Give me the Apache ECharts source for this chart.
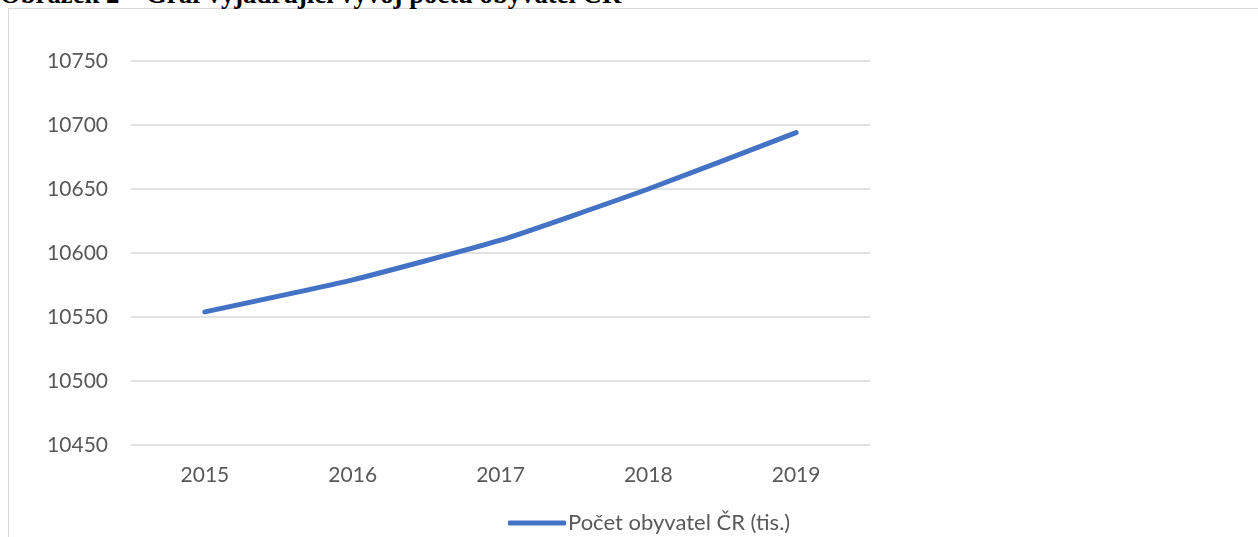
<!DOCTYPE html>
<html><head><meta charset="utf-8">
<script src="https://cdn.jsdelivr.net/npm/echarts@6/dist/echarts.min.js"></script>
<style>
html,body{margin:0;padding:0;background:#fff;overflow:hidden;}
#frame{position:absolute;left:8px;top:8px;width:1260px;height:540px;border:1.5px solid #d9d9d9;box-sizing:border-box;}
#title{position:absolute;left:0;top:-19px;font-family:"Liberation Serif","Times New Roman",serif;font-weight:bold;font-size:26.7px;line-height:26px;color:#000;white-space:nowrap;}
#chart{position:absolute;left:0;top:0;width:1258px;height:537px;}
</style></head>
<body>
<div id="frame"></div>
<div id="title">Obrázek 2 – Graf vyjadřující vývoj počtu obyvatel ČR</div>
<div id="chart"></div>
<script>
const categories = ['2015','2016','2017','2018','2019'];
const population = [10554, 10579, 10610, 10650, 10694];
const seriesName = 'Počet obyvatel ČR (tis.)';
const yMin = 10450, yMax = 10750, yStep = 50;

const chart = echarts.init(document.getElementById('chart'));
chart.setOption({
  animation:false,
  textStyle:{fontFamily:'Lato, "Open Sans", sans-serif'},
  grid:{left:131,right:388,top:61,bottom:92,containLabel:false},
  xAxis:{type:'category',data:categories,boundaryGap:true,
    axisLine:{show:false},axisTick:{show:false},
    axisLabel:{color:'#595959',fontSize:21,margin:20,fontFamily:'Lato, sans-serif'},
    splitLine:{show:false}},
  yAxis:{type:'value',min:yMin,max:yMax,interval:yStep,
    axisLine:{show:false},axisTick:{show:false},
    axisLabel:{color:'#595959',fontSize:21,margin:23,fontFamily:'Lato, sans-serif',
      formatter:function(v){return String(v);}},
    splitLine:{lineStyle:{color:'#d9d9d9',width:1.5}}},
  legend:{left:503,top:507,itemWidth:58,itemHeight:5,itemGap:0,icon:'roundRect',
    textStyle:{color:'#595959',fontSize:22,padding:[0,0,0,-3]},
    data:[seriesName]},
  series:[{name:seriesName,type:'line',data:population,symbol:'none',
    smooth:0.15,
    lineStyle:{color:'#4472C4',width:5,cap:'round'},itemStyle:{color:'#4472C4'}}]
});
</script>
</body></html>
